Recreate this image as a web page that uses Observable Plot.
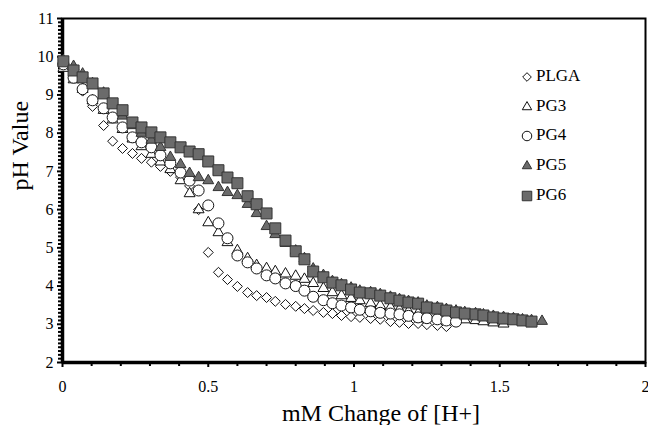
<!DOCTYPE html>
<html><head><meta charset="utf-8">
<script src="https://cdn.jsdelivr.net/npm/d3@7"></script>
<script src="https://cdn.jsdelivr.net/npm/@observablehq/plot@0.6"></script>
<style>
body{margin:0;background:#fff;}
#chart{position:relative;width:648px;height:425px;font-family:"Liberation Serif","Times New Roman",serif;}
#chart svg text{font-family:"Liberation Serif","Times New Roman",serif;}
.lg{position:absolute;font-family:"Liberation Serif","Times New Roman",serif;font-size:17px;line-height:20px;color:#000;white-space:nowrap;}
.lgs{position:absolute;}
</style></head><body><div id="chart"></div>
<script>
// mM change of [H+] at each titration step
const xGrid = [0.003,0.038,0.069,0.103,0.141,0.172,0.206,0.24,0.271,0.305,0.336,0.37,0.405,0.436,0.467,0.50,0.535,0.566,0.60,0.635,0.666,0.70,0.73,0.765,0.80,0.83,0.86,0.895,0.926,0.957,0.99,1.02,1.057,1.09,1.125,1.156,1.187,1.22,1.25,1.286,1.317,1.35,1.38,1.417,1.444,1.478,1.513,1.547,1.578,1.609,1.645];
const plgaY = [9.80,9.45,9.10,8.70,8.20,7.79,7.60,7.47,7.34,7.24,7.13,7.00,6.85,6.62,6.00,4.88,4.36,4.17,3.99,3.83,3.75,3.70,3.60,3.52,3.47,3.41,3.36,3.31,3.28,3.23,3.20,3.18,3.15,3.13,3.07,3.05,3.02,3.02,2.99,2.97,2.94];
const pg3Y = [9.70,9.40,9.15,8.85,8.60,8.35,8.10,7.85,7.65,7.45,7.25,7.05,6.76,6.42,6.00,5.66,5.40,5.14,4.93,4.72,4.54,4.46,4.38,4.32,4.26,4.18,4.07,3.94,3.83,3.75,3.68,3.62,3.55,3.49,3.44,3.39,3.34,3.29,3.26,3.21,3.18,3.15,3.12,3.10,3.07,3.04,3.01];
const pg4Y = [9.80,9.45,9.15,8.86,8.65,8.41,8.15,7.89,7.76,7.63,7.42,7.21,6.97,6.76,6.50,6.11,5.64,5.25,4.80,4.62,4.46,4.28,4.20,4.07,4.00,3.88,3.72,3.63,3.55,3.49,3.44,3.38,3.34,3.30,3.28,3.26,3.22,3.18,3.16,3.13,3.10,3.07];
const pg5Y = [9.90,9.75,9.55,9.30,9.05,8.75,8.45,8.20,8.00,7.82,7.63,7.37,7.18,6.95,6.84,6.76,6.58,6.45,6.37,6.14,5.90,5.56,5.35,5.12,4.92,4.72,4.45,4.28,4.12,4.04,3.95,3.87,3.83,3.78,3.71,3.65,3.60,3.56,3.48,3.44,3.39,3.35,3.31,3.28,3.25,3.21,3.18,3.15,3.12,3.10,3.08];
const pg6Y = [9.88,9.64,9.46,9.30,9.04,8.78,8.60,8.28,8.15,8.02,7.89,7.76,7.63,7.52,7.45,7.26,7.03,6.84,6.69,6.35,6.14,5.90,5.51,5.19,4.91,4.70,4.38,4.23,4.09,4.02,3.91,3.83,3.81,3.75,3.68,3.62,3.57,3.54,3.44,3.41,3.36,3.31,3.28,3.26,3.23,3.18,3.15,3.13,3.10,3.07];

const seriesNames = ["PLGA","PG3","PG4","PG5","PG6"];
const xTicks = [0,0.5,1,1.5,2];
const xTickLabels = ["0","0.5","1","1.5","2"];
const xMinorTicks = [0.1,0.2,0.3,0.4,0.6,0.7,0.8,0.9,1.1,1.2,1.3,1.4,1.6,1.7,1.8,1.9];
const yTicks = [2,3,4,5,6,7,8,9,10,11];
const xTitle = "mM Change of [H+]";
const yTitle = "pH Value";

const gray = "#6b6b6b";
const styles = {
  PLGA: {symbol:"diamond2", r:4.5, fill:"white", stroke:"#111"},
  PG3:  {symbol:"triangle2", r:5.2, fill:"white", stroke:"#111"},
  PG4:  {symbol:"circle", r:5.5, fill:"white", stroke:"#111"},
  PG5:  {symbol:"triangle2", r:5.2, fill:gray, stroke:"#333"},
  PG6:  {symbol:"square", r:6.2, fill:gray, stroke:"#333"}
};
const yArrays = {PLGA: plgaY, PG3: pg3Y, PG4: pg4Y, PG5: pg5Y, PG6: pg6Y};
const rows = s => yArrays[s].map((v,i) => ({series:s, x:xGrid[i], y:v}));
const yMinor = d3.range(20,111).map(d => d/10).filter(d => d % 1 !== 0);
const serif = "'Liberation Serif', 'Times New Roman', serif";

const plot = Plot.plot({
  width:648, height:425,
  marginLeft:62, marginRight:3, marginTop:18, marginBottom:63,
  style:{fontFamily:serif, fontSize:"16px", color:"black", background:"white"},
  x:{domain:[0,2]},
  y:{domain:[2,11]},
  marks:[
    Plot.frame({stroke:"black", strokeWidth:2}),
    Plot.axisX(xMinorTicks, {tickSize:4, strokeWidth:2, tickFormat:() => "", label:null}),
    Plot.axisX(xTicks, {tickSize:5, strokeWidth:2, tickPadding:13, tickFormat:(d) => xTickLabels[xTicks.indexOf(d)], label:null, fontSize:16, fontFamily:serif}),
    Plot.axisY(yMinor, {tickSize:4, strokeWidth:2, tickFormat:() => "", label:null}),
    Plot.axisY(yTicks, {tickSize:5, strokeWidth:2, tickPadding:4, label:null, fontSize:16, fontFamily:serif}),
    Plot.ruleX([0], {stroke:"black", strokeWidth:3.5}),
    Plot.ruleY([2], {stroke:"black", strokeWidth:3.5}),
    ...seriesNames.map(s => Plot.dot(rows(s), {x:"x", y:"y", symbol:styles[s].symbol, r:styles[s].r, fill:styles[s].fill, stroke:styles[s].stroke, strokeWidth:1})),
    Plot.text([xTitle], {frameAnchor:"bottom", dx:27, dy:51, fontSize:24, lineAnchor:"middle", fontFamily:serif}),
    Plot.text([yTitle], {frameAnchor:"left", dx:-42, rotate:-90, fontSize:24, fontFamily:serif})
  ]
});
const chart = document.getElementById("chart");
chart.appendChild(plot);

// legend
const lgX = 527, lgY0 = 77, lgStep = 29.7;
seriesNames.forEach((s,i) => {
  const st = styles[s];
  const cy = lgY0 + i*lgStep;
  const svg = d3.create("svg").attr("class","lgs").attr("width",16).attr("height",16)
    .style("left",(lgX-8)+"px").style("top",(cy-8)+"px");
  const sym = {diamond2:d3.symbolDiamond2, triangle2:d3.symbolTriangle2, circle:d3.symbolCircle, square:d3.symbolSquare}[st.symbol];
  svg.append("path").attr("transform","translate(8,8)")
    .attr("d", d3.symbol(sym, Math.PI*st.r*st.r*0.75)())
    .attr("fill", st.fill).attr("stroke", st.stroke).attr("stroke-width",1);
  chart.appendChild(svg.node());
  const t = document.createElement("div");
  t.className = "lg"; t.textContent = s;
  t.style.left = (lgX+9)+"px"; t.style.top = (cy-11)+"px";
  chart.appendChild(t);
});
</script></body></html>
